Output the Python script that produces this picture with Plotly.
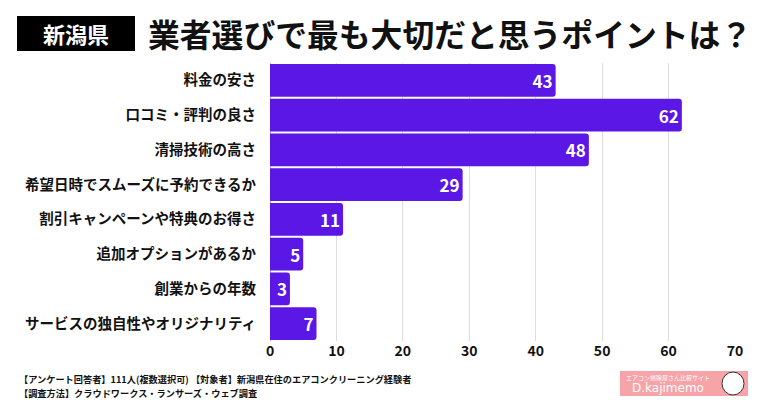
import plotly.graph_objects as go

categories = [
    "料金の安さ",
    "口コミ・評判の良さ",
    "清掃技術の高さ",
    "希望日時でスムーズに予約できるか",
    "割引キャンペーンや特典のお得さ",
    "追加オプションがあるか",
    "創業からの年数",
    "サービスの独自性やオリジナリティ",
]
values = [43, 62, 48, 29, 11, 5, 3, 7]
x_ticks = [0, 10, 20, 30, 40, 50, 60, 70]

title_tag = "新潟県"
title_text = "業者選びで最も大切だと思うポイントは？"
note1 = "【アンケート回答者】111人(複数選択可) 【対象者】新潟県在住のエアコンクリーニング経験者"
note2 = "【調査方法】クラウドワークス・ランサーズ・ウェブ調査"

FONT = "Noto Sans CJK JP"
BAR = "#5B17E6"

L, R, T, B = 270, 25, 63, 59
PW, PH = 760 - L - R, 400 - T - B


def px(x):
    return (x - L) / PW


def py(y):
    return (400 - y - B) / PH


fig = go.Figure(go.Bar(
    x=values, y=categories, orientation="h",
    marker=dict(color=BAR, cornerradius=3, line=dict(width=0)),
    text=[str(v) for v in values], textposition="inside", insidetextanchor="end",
    textfont=dict(family=FONT, size=17, color="white", weight="bold"),
    constraintext="none", textangle=0,
    hoverinfo="skip",
))

fig.update_layout(
    width=760, height=400,
    margin=dict(l=L, r=R, t=T, b=B),
    paper_bgcolor="white", plot_bgcolor="white",
    bargap=0.055,
    showlegend=False,
    font=dict(family=FONT, color="#111"),
    xaxis=dict(
        range=[0, 70], tickvals=x_ticks, showgrid=True, gridcolor="#dcdcdc", gridwidth=1,
        zeroline=True, zerolinecolor="#bbbbbb", zerolinewidth=1,
        tickfont=dict(family=FONT, size=14, color="#111", weight="bold"),
        ticks="", fixedrange=True,
    ),
    yaxis=dict(
        autorange="reversed", showgrid=False,
        tickfont=dict(family=FONT, size=14.5, color="#111", weight="bold"),
        ticks="outside", ticklen=10, tickcolor="rgba(0,0,0,0)", fixedrange=True,
    ),
)

# Title tag box
fig.add_shape(type="rect", xref="paper", yref="paper",
              x0=px(17), x1=px(135), y0=py(51), y1=py(16),
              fillcolor="#000000", line=dict(width=0), layer="above")
fig.add_annotation(xref="paper", yref="paper", x=px(76), y=py(33),
                   text=title_tag, showarrow=False, xanchor="center", yanchor="middle",
                   font=dict(family=FONT, size=22, color="white", weight="bold"))
fig.add_annotation(xref="paper", yref="paper", x=px(146), y=py(33),
                   text=title_text, showarrow=False, xanchor="left", yanchor="middle",
                   font=dict(family=FONT, size=31.8, color="#111", weight="bold"))

# Notes
fig.add_annotation(xref="paper", yref="paper", x=px(17), y=py(379),
                   text=note1, showarrow=False, xanchor="left", yanchor="middle",
                   font=dict(family=FONT, size=9.2, color="#111", weight="bold"))
fig.add_annotation(xref="paper", yref="paper", x=px(17), y=py(393),
                   text=note2, showarrow=False, xanchor="left", yanchor="middle",
                   font=dict(family=FONT, size=9.2, color="#111", weight="bold"))

# Logo approximation
fig.add_shape(type="rect", xref="paper", yref="paper",
              x0=px(620), x1=px(748), y0=py(396), y1=py(371),
              fillcolor="#F6A4A8", line=dict(width=0), layer="above")
fig.add_annotation(xref="paper", yref="paper", x=px(668), y=py(377),
                   text="エアコン掃除屋さん比較サイト", showarrow=False, xanchor="center", yanchor="middle",
                   font=dict(family=FONT, size=6, color="white"))
fig.add_annotation(xref="paper", yref="paper", x=px(668), y=py(388),
                   text="D.kajimemo", showarrow=False, xanchor="center", yanchor="middle",
                   font=dict(family="DejaVu Sans", size=12, color="white"))
fig.add_shape(type="circle", xref="paper", yref="paper",
              x0=px(722), x1=px(744), y0=py(395), y1=py(372),
              fillcolor="white", line=dict(color="#333", width=1), layer="above")

fig.write_html("out.html", config={"displayModeBar": False},
               post_script="document.body.style.margin='0';")
